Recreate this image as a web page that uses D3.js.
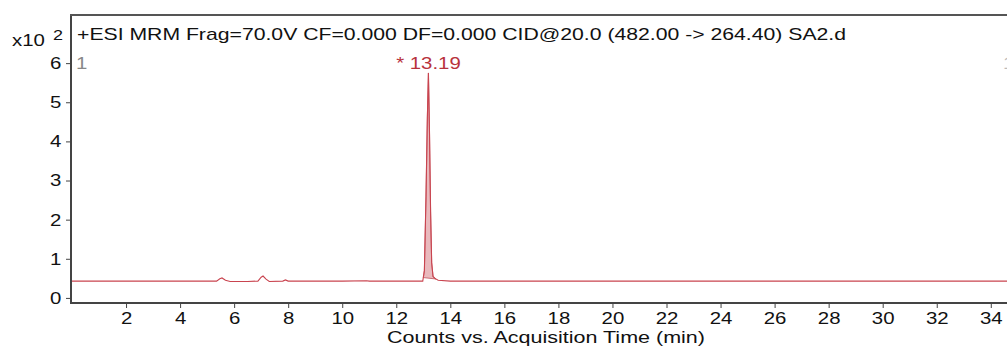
<!DOCTYPE html>
<html>
<head>
<meta charset="utf-8">
<script src="https://cdn.jsdelivr.net/npm/d3@7"></script>
<style>
  body { margin: 0; background: #fff; }
  svg { display: block; font-family: "Liberation Sans", Arial, sans-serif; }
</style>
</head>
<body>
<svg id="chart" width="1007" height="347"></svg>
<script>
// chromatogram trace (time in min, counts x10^2)
const times = [0, 1, 2, 3, 4, 5, 5.35, 5.47, 5.55, 5.68, 5.85, 6.5, 6.88, 7.0, 7.07, 7.18, 7.3,
  7.8, 7.9, 8.0, 9.0, 10.0, 10.9, 11.0, 12.0, 12.98, 13.04, 13.1, 13.15, 13.19, 13.23, 13.27,
  13.31, 13.36, 13.43, 13.55, 14.0, 16, 18, 20, 22, 24, 26, 28, 30, 32, 34, 34.6];
const counts = [0.43, 0.43, 0.43, 0.43, 0.43, 0.43, 0.43, 0.49, 0.51, 0.45, 0.42, 0.42, 0.43, 0.53, 0.56, 0.48, 0.42,
  0.43, 0.46, 0.43, 0.43, 0.43, 0.44, 0.43, 0.43, 0.43, 0.7, 2.6, 4.6, 5.75, 4.2, 2.2,
  0.9, 0.55, 0.5, 0.45, 0.43, 0.43, 0.43, 0.43, 0.43, 0.43, 0.43, 0.43, 0.43, 0.43, 0.43, 0.43];
const peakStart = 13.0, peakEnd = 13.47;   // integrated region
const peakLabel = "* 13.19", peakTime = 13.19, peakTop = 5.75;
const xTicks = [2, 4, 6, 8, 10, 12, 14, 16, 18, 20, 22, 24, 26, 28, 30, 32, 34];
const yTicks = [0, 1, 2, 3, 4, 5, 6];
const title = "+ESI MRM Frag=70.0V CF=0.000 DF=0.000 CID@20.0 (482.00 -> 264.40) SA2.d";
const xTitle = "Counts vs. Acquisition Time (min)";

const svg = d3.select("#chart");
const mLeft = 71, mRight = 1007, mTop = 15, mBottom = 303;
const stretch = 1.2;   // the source text is drawn a little wide

const x = d3.scaleLinear().domain([0, 34.6]).range([mLeft + 1, mRight]);
const y = d3.scaleLinear().domain([-0.13, 7.23]).range([mBottom, mTop]);

const pts = times.map((t, i) => [t, counts[i]]);

// integrated peak fill
const inPeak = pts.filter(p => p[0] >= peakStart && p[0] <= peakEnd);
const interp = t => {
  for (let i = 1; i < pts.length; i++) {
    if (pts[i][0] >= t) {
      const a = pts[i - 1], b = pts[i];
      return a[1] + (b[1] - a[1]) * (t - a[0]) / (b[0] - a[0]);
    }
  }
  return pts[pts.length - 1][1];
};
const poly = [[peakStart, interp(peakStart)], ...inPeak, [peakEnd, interp(peakEnd)]];
svg.append("path")
  .attr("d", d3.line().x(d => x(d[0])).y(d => y(d[1]))(poly) + "Z")
  .attr("fill", "#e9b9bd")
  .attr("stroke", "#c0505a")
  .attr("stroke-width", 0.8);

// trace
svg.append("path")
  .attr("d", d3.line().x(d => x(d[0])).y(d => y(d[1]))(pts))
  .attr("fill", "none")
  .attr("stroke", "#c9444f")
  .attr("stroke-width", 1.1);

// axes
const xAxis = svg.append("g")
  .attr("transform", `translate(0,${mBottom})`)
  .call(d3.axisBottom(x).tickValues(xTicks).tickSize(5).tickPadding(3));
const yAxis = svg.append("g")
  .attr("transform", `translate(${mLeft},0)`)
  .call(d3.axisLeft(y).tickValues(yTicks).tickSize(5).tickPadding(3));
[xAxis, yAxis].forEach(g => {
  g.select(".domain").remove();
  g.selectAll("line").attr("stroke", "#444").attr("stroke-width", 1);
  g.selectAll("text").attr("fill", "#111").style("font-size", "17px")
    .style("font-family", "'Liberation Sans', Arial, sans-serif")
    .attr("transform", `scale(${stretch},1)`);
});
xAxis.selectAll("text").attr("dy", "0.74em");

// frame lines
svg.append("line").attr("x1", mLeft).attr("x2", mLeft).attr("y1", mTop).attr("y2", mBottom + 1)
  .attr("stroke", "#444").attr("stroke-width", 2);
svg.append("line").attr("x1", mLeft - 1).attr("x2", mRight).attr("y1", mBottom).attr("y2", mBottom)
  .attr("stroke", "#444").attr("stroke-width", 2);
svg.append("line").attr("x1", mLeft - 1).attr("x2", mRight).attr("y1", mTop).attr("y2", mTop)
  .attr("stroke", "#555").attr("stroke-width", 2);

// texts
function label(tx, ty, str, size, fill, anchor) {
  return svg.append("text")
    .attr("transform", `translate(${tx},${ty}) scale(${stretch},1)`)
    .attr("font-size", size).attr("fill", fill)
    .attr("text-anchor", anchor || "start").text(str);
}
svg.append("text").attr("x", 77).attr("y", 40).attr("font-size", 17).attr("fill", "#111")
  .attr("textLength", 769).attr("lengthAdjust", "spacingAndGlyphs").text(title);
label(12, 46, "x10", 17, "#111");
label(53, 40, "2", 15, "#111");
label(76, 69, "1", 17, "#888");
label(1003, 69, "1", 17, "#bbb");
label(x(peakTime), y(peakTop) - 4, peakLabel, 17, "#b8323c", "middle");
svg.append("text").attr("x", 387).attr("y", 343).attr("font-size", 17).attr("fill", "#111")
  .attr("textLength", 318).attr("lengthAdjust", "spacingAndGlyphs").text(xTitle);
</script>
</body>
</html>
